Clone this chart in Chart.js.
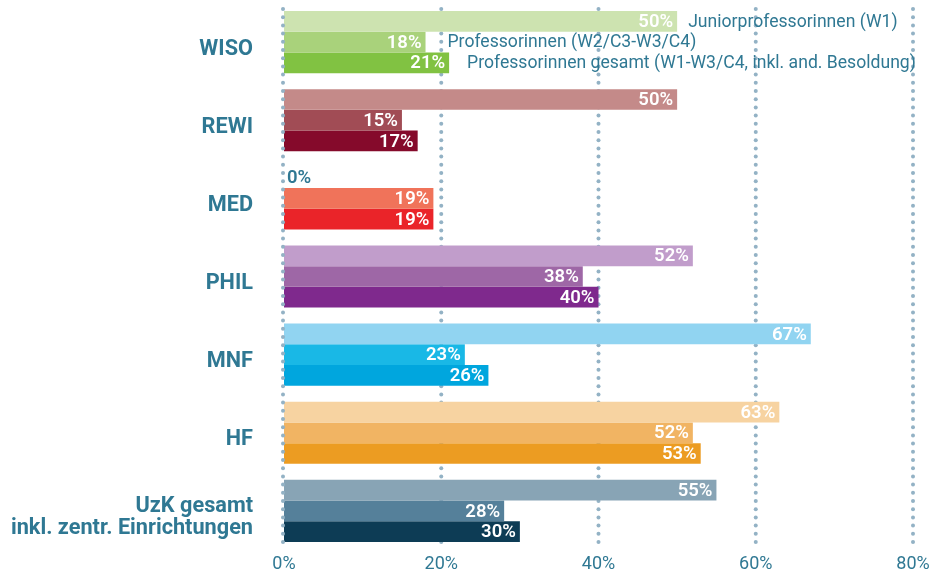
<!DOCTYPE html>
<html>
<head>
<meta charset="utf-8">
<script src="https://cdn.jsdelivr.net/npm/chart.js@4.4.1/dist/chart.umd.min.js"></script>
<style>
  html, body { margin: 0; padding: 0; background: #ffffff; }
  #wrap { width: 934px; height: 572px; position: relative; }
</style>
</head>
<body>
<div id="wrap"><canvas id="c" width="934" height="572"></canvas></div>
<script>
// ---- data ----
const categories = ['WISO', 'REWI', 'MED', 'PHIL', 'MNF', 'HF', ['UzK gesamt', 'inkl. zentr. Einrichtungen']];
const seriesNames = ['Juniorprofessorinnen (W1)', 'Professorinnen (W2/C3-W3/C4)', 'Professorinnen gesamt (W1-W3/C4, inkl. and. Besoldung)'];
const juniorValues = [50, 50, 0, 52, 67, 63, 55];
const profW2Values = [18, 15, 19, 38, 23, 52, 28];
const gesamtValues = [21, 17, 19, 40, 26, 53, 30];
const xTicks = [0, 20, 40, 60, 80];

// ---- styles ----
const teal = '#2f7893';
const dotColor = '#93b2c5';
const juniorColors = ['#cde3b0', '#c48a89', '#f0735a', '#c19dcb', '#91d4f1', '#f7d3a1', '#88a4b5'];
const profW2Colors = ['#a9d27b', '#a14c55', '#f0735a', '#9e67a6', '#19b8e6', '#f1b463', '#55809a'];
const gesamtColors = ['#81c242', '#850a2b', '#ea2429', '#7f298d', '#00a6de', '#ec9c22', '#0d3c55'];
const FONT = 'Roboto, "Liberation Sans", sans-serif';

function dotLine(ctx, x, y0, y1) {
  ctx.fillStyle = dotColor;
  for (let y = y0; y <= y1; y += 8.2) {
    ctx.beginPath();
    ctx.arc(x, y, 2, 0, Math.PI * 2);
    ctx.fill();
  }
}

const gridPlugin = {
  id: 'dotGrid',
  beforeDatasetsDraw(chart) {
    const { ctx, chartArea, scales } = chart;
    ctx.save();
    xTicks.forEach(v => {
      if (v === 0) return;
      dotLine(ctx, scales.x.getPixelForValue(v), chartArea.top + 6, chartArea.bottom - 5);
    });
    ctx.restore();
  },
  afterDatasetsDraw(chart) {
    const { ctx, chartArea, scales } = chart;
    ctx.save();
    dotLine(ctx, scales.x.getPixelForValue(0) - 1, chartArea.top + 6, chartArea.bottom - 5);
    ctx.restore();
  }
};

const labelPlugin = {
  id: 'barLabels',
  afterDatasetsDraw(chart) {
    const { ctx } = chart;
    ctx.save();
    ctx.textBaseline = 'middle';
    chart.data.datasets.forEach((ds, di) => {
      const meta = chart.getDatasetMeta(di);
      meta.data.forEach((bar, i) => {
        const v = ds.data[i];
        ctx.font = '600 18.5px ' + FONT;
        if (v === 0) {
          ctx.fillStyle = teal;
          ctx.textAlign = 'left';
          ctx.fillText(v + '%', bar.x + 3, bar.y + 1);
        } else {
          ctx.fillStyle = '#ffffff';
          ctx.textAlign = 'right';
          ctx.fillText(v + '%', bar.x - 4, bar.y + 1);
        }
      });
    });
    // series names beside the first group
    const gaps = [11, 22, 18];
    ctx.font = '400 17.6px ' + FONT;
    ctx.fillStyle = teal;
    ctx.textAlign = 'left';
    chart.data.datasets.forEach((ds, di) => {
      const bar = chart.getDatasetMeta(di).data[0];
      ctx.fillText(seriesNames[di], bar.x + gaps[di], bar.y + 1);
    });
    ctx.restore();
  }
};

new Chart(document.getElementById('c'), {
  type: 'bar',
  data: {
    labels: categories,
    datasets: [
      { label: seriesNames[0], data: juniorValues, backgroundColor: juniorColors },
      { label: seriesNames[1], data: profW2Values, backgroundColor: profW2Colors },
      { label: seriesNames[2], data: gesamtValues, backgroundColor: gesamtColors }
    ]
  },
  options: {
    indexAxis: 'y',
    responsive: false,
    animation: false,
    devicePixelRatio: 1,
    layout: { padding: { top: 3, right: 21, bottom: 0, left: 0 } },
    datasets: { bar: { barPercentage: 1.0, categoryPercentage: 0.795, borderWidth: 0 } },
    plugins: { legend: { display: false }, tooltip: { enabled: false } },
    scales: {
      x: {
        min: 0, max: 80,
        afterBuildTicks(scale) { scale.ticks = xTicks.map(v => ({ value: v })); },
        afterFit(scale) { scale.height = 22; scale.paddingLeft = 0; scale.paddingRight = 0; },
        grid: { display: false, drawTicks: false },
        border: { display: false },
        ticks: {
          padding: 4,
          color: teal,
          font: { family: FONT, size: 18, weight: '400' },
          callback: v => v + '%'
        }
      },
      y: {
        afterFit(scale) { scale.width = 284; scale.paddingTop = 0; scale.paddingBottom = 0; },
        grid: { display: false, drawTicks: false },
        border: { display: false },
        ticks: {
          padding: 31,
          labelOffset: 7,
          color: teal,
          font: { family: FONT, size: 21.7, weight: '700', lineHeight: 1.02 }
        }
      }
    }
  },
  plugins: [gridPlugin, labelPlugin]
});
</script>
</body>
</html>
